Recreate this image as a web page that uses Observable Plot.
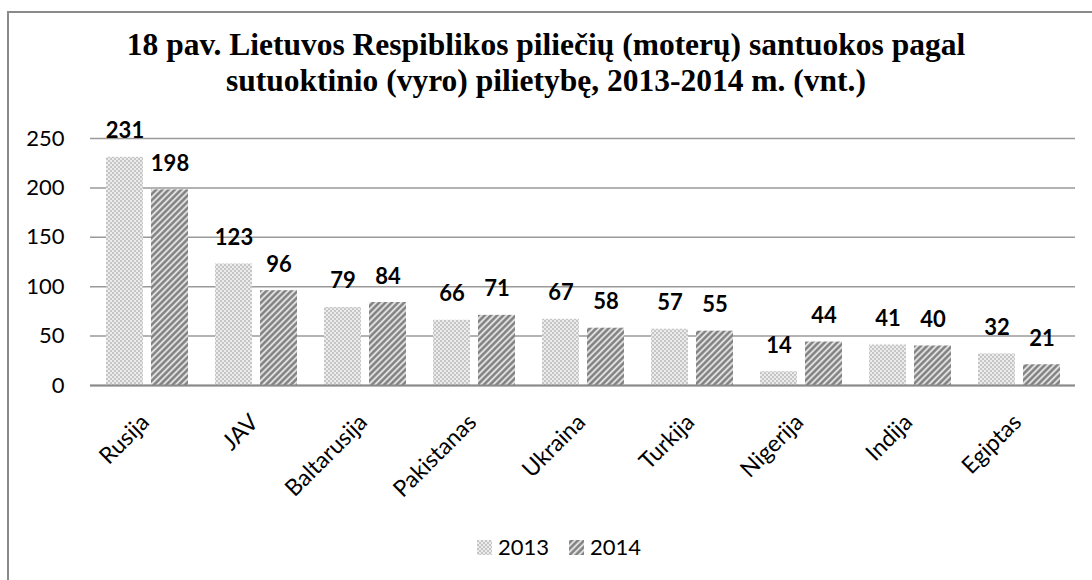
<!DOCTYPE html>
<html>
<head>
<meta charset="utf-8">
<script src="https://cdn.jsdelivr.net/npm/d3@7"></script>
<script src="https://cdn.jsdelivr.net/npm/@observablehq/plot@0.6"></script>
<style>
  html, body { margin: 0; padding: 0; background: #fff; overflow: hidden; }
  body { width: 1092px; height: 580px; position: relative; }
  #frame { position: absolute; left: 7px; top: 11px; width: 1200px; height: 700px;
           border-left: 2px solid #8a8a8a; border-top: 2px solid #8a8a8a; box-sizing: border-box; }
  #title { position: absolute; left: 0; top: 27px; width: 1092px; text-align: center;
           font-family: "Liberation Serif", "Times New Roman", serif; font-weight: bold;
           font-size: 31.5px; line-height: 36px; color: #000; }
  #chart { position: absolute; left: 0; top: 100px; }
  #legend { position: absolute; left: 477px; top: 532px; display: flex; align-items: center;
            font-family: Lato, sans-serif; font-size: 22px; line-height: 30px; color: #000; }
  #legend .item { display: flex; align-items: center; margin-right: 20px; }
  #legend svg { margin-right: 6px; display: block; }
</style>
</head>
<body>
<div id="frame"></div>
<div id="title">18 pav. Lietuvos Respiblikos piliečių (moterų) santuokos pagal<br>sutuoktinio (vyro) pilietybę, 2013-2014 m. (vnt.)</div>
<div id="chart"></div>
<div id="legend"></div>
<script>
const categories = ["Rusija", "JAV", "Baltarusija", "Pakistanas", "Ukraina", "Turkija", "Nigerija", "Indija", "Egiptas"];
const values2013 = [231, 123, 79, 66, 67, 57, 14, 41, 32];
const values2014 = [198, 96, 84, 71, 58, 55, 44, 40, 21];
const years = ["2013", "2014"];
const yTicks = [0, 50, 100, 150, 200, 250];

const rows2013 = categories.map((c, i) => ({category: c, year: years[0], value: values2013[i]}));
const rows2014 = categories.map((c, i) => ({category: c, year: years[1], value: values2014[i]}));

const patternIds = {"2013": "pat2013", "2014": "pat2014"};

const svg = Plot.plot({
  width: 1092,
  height: 420,
  marginTop: 38,
  marginBottom: 135,
  marginLeft: 90,
  marginRight: 17,
  style: {fontFamily: "Lato, sans-serif", fontSize: "22px", color: "#000", background: "transparent", overflow: "visible"},
  x: {domain: categories, paddingInner: 0.25, paddingOuter: 0.125, label: null},
  y: {domain: [0, 250], ticks: yTicks, label: null},
  marks: [
    Plot.gridY(yTicks, {stroke: "#9a9a9a", strokeOpacity: 1, strokeWidth: 1.5}),
    Plot.barY(rows2013, {x: "category", y: "value", fill: `url(#${patternIds["2013"]})`, insetRight: 45}),
    Plot.barY(rows2014, {x: "category", y: "value", fill: `url(#${patternIds["2014"]})`, insetLeft: 45}),
    Plot.ruleY([0], {stroke: "#8a8a8a", strokeWidth: 2}),
    Plot.text(rows2013, {x: "category", y: "value", text: d => String(d.value), dx: -22.5, dy: -19, lineAnchor: "bottom", fontWeight: "bold", fontSize: 22, fill: "#000"}),
    Plot.text(rows2014, {x: "category", y: "value", text: d => String(d.value), dx: 22.5, dy: -19, lineAnchor: "bottom", fontWeight: "bold", fontSize: 22, fill: "#000"}),
    Plot.axisY(yTicks, {tickSize: 0, tickPadding: 26, fontSize: 22, label: null}),
    Plot.axisX({tickSize: 0, tickPadding: 33, tickRotate: -45, dx: -2, fontSize: 23, label: null})
  ]
});

const defs = d3.select(svg).insert("defs", ":first-child");
function addPatterns(defsSel, suffix) {
  const p1 = defsSel.append("pattern").attr("id", "pat2013" + suffix)
    .attr("patternUnits", "userSpaceOnUse").attr("width", 4).attr("height", 4);
  p1.append("rect").attr("width", 4).attr("height", 4).attr("fill", "#ececec");
  p1.append("rect").attr("x", 0).attr("y", 0).attr("width", 2).attr("height", 2).attr("fill", "#c6c6c6");
  p1.append("rect").attr("x", 2).attr("y", 2).attr("width", 2).attr("height", 2).attr("fill", "#c6c6c6");
  const p2 = defsSel.append("pattern").attr("id", "pat2014" + suffix)
    .attr("patternUnits", "userSpaceOnUse").attr("width", 4.4).attr("height", 10)
    .attr("patternTransform", "rotate(45)");
  p2.append("rect").attr("width", 4.4).attr("height", 10).attr("fill", "#f4f4f4");
  p2.append("rect").attr("x", 0.6).attr("width", 3.2).attr("height", 10).attr("fill", "#b4b4b4");
  p2.append("rect").attr("x", 1.2).attr("width", 2).attr("height", 10).attr("fill", "#7c7c7c");
}
addPatterns(defs, "");
document.getElementById("chart").appendChild(svg);

const legend = d3.select("#legend");
years.forEach(y => {
  const item = legend.append("div").attr("class", "item");
  const s = item.append("svg").attr("width", 15).attr("height", 15);
  const d = s.append("defs");
  addPatterns(d, "_lg" + y);
  s.append("rect").attr("width", 15).attr("height", 15).attr("fill", `url(#pat${y}_lg${y})`);
  item.append("span").text(y);
});
</script>
</body>
</html>
